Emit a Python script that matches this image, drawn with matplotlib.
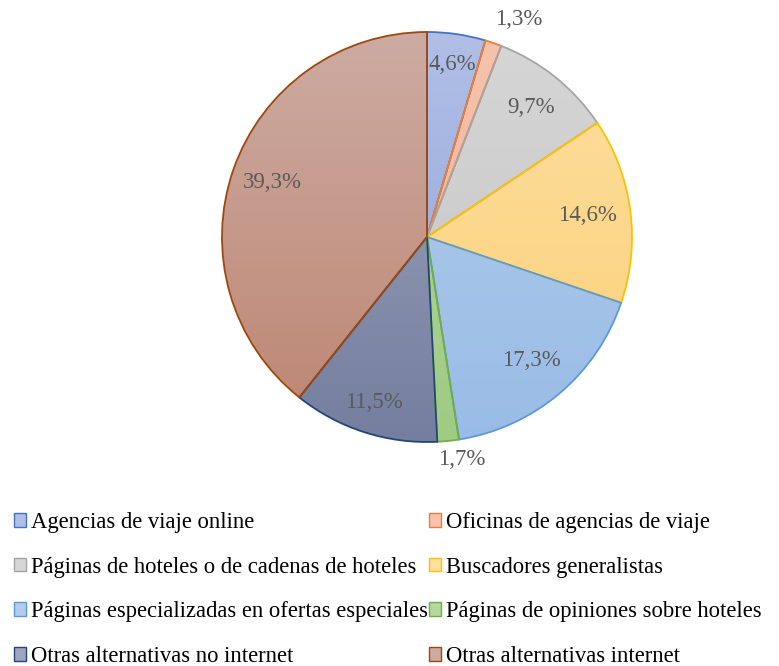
import numpy as np
import matplotlib
matplotlib.use("Agg")
import matplotlib.pyplot as plt
from matplotlib.patches import Rectangle
from matplotlib.colors import LinearSegmentedColormap

# datos (porcentajes)
categorias = [
    "Agencias de viaje online",
    "Oficinas de agencias de viaje",
    "Páginas de hoteles o de cadenas de hoteles",
    "Buscadores generalistas",
    "Páginas especializadas en ofertas especiales",
    "Páginas de opiniones sobre hoteles",
    "Otras alternativas no internet",
    "Otras alternativas internet",
]
valores = [4.6, 1.3, 9.7, 14.6, 17.3, 1.7, 11.5, 39.3]

# colores: borde, relleno claro (arriba), relleno oscuro (abajo)
bordes = ["#4472C4", "#ED7D31", "#A5A5A5", "#FFC000", "#5B9BD5", "#70AD47", "#264478", "#9E480E"]
claros = ["#b1bfe6", "#f7c3ad", "#d6d6d6", "#fee0a0", "#b4cdec", "#b5d89d", "#9ea6bd", "#cdaba2"]
oscuros = ["#8ea3d8", "#f0a98d", "#c4c4c4", "#fbcf79", "#99bce6", "#9fcb83", "#747e9e", "#bd8571"]

# etiquetas fuera del pastel para las porciones pequeñas (distancia, giro en grados)
dist_etiqueta = [0.85, 1.15, 0.81, 0.79, 0.79, 1.10, 0.85, 0.80]
giro_etiqueta = [0, -4, 0, 0, 0, 3, 0, 0]

plt.rcParams['font.family'] = ['Liberation Serif', 'DejaVu Serif']

fig = plt.figure(figsize=(7.79, 6.66), dpi=100)
cx, cy, r = 427, 237, 205
W, H = 779, 666
ax = fig.add_axes([(cx - r) / W, (H - cy - r) / H, 2 * r / W, 2 * r / H])

wedges, _ = ax.pie(valores, startangle=90, counterclock=False, radius=1,
                   wedgeprops=dict(linewidth=1.3))
ax.set_xlim(-1, 1)
ax.set_ylim(-1, 1)
ax.set_aspect('equal')
ax.axis('off')

grad = np.linspace(0, 1, 256).reshape(-1, 1)
for i, w in enumerate(wedges):
    w.set_facecolor('none')
    w.set_edgecolor(bordes[i])
    w.set_zorder(3)
    w.set_clip_on(False)
    cmap = LinearSegmentedColormap.from_list("g%d" % i, [claros[i], oscuros[i]])
    im = ax.imshow(grad, cmap=cmap, extent=(-1, 1, -1, 1), origin='upper',
                   aspect='auto', zorder=2)
    im.set_clip_path(w)

    ang = np.deg2rad((w.theta1 + w.theta2) / 2 + giro_etiqueta[i])
    d = dist_etiqueta[i]
    ax.text(d * np.cos(ang), d * np.sin(ang),
            ("%.1f%%" % valores[i]).replace(".", ","),
            ha='center', va='center', fontsize=16.5, color="#595959",
            zorder=5, clip_on=False)

# leyenda (orden por filas)
handles = [Rectangle((0, 0), 1, 1, facecolor=claros[i], edgecolor=bordes[i], linewidth=1)
           for i in range(len(categorias))]
orden = [0, 2, 4, 6, 1, 3, 5, 7]
fig.legend([handles[i] for i in orden], [categorias[i] for i in orden],
           ncol=2, loc='lower left',
           bbox_to_anchor=(0.0, -0.022), frameon=False, fontsize=16.3,
           handlelength=0.55, handleheight=0.55, handletextpad=0.2,
           columnspacing=0.05, labelspacing=1.05, borderaxespad=0.2)

fig.savefig("out.png", dpi=100)
